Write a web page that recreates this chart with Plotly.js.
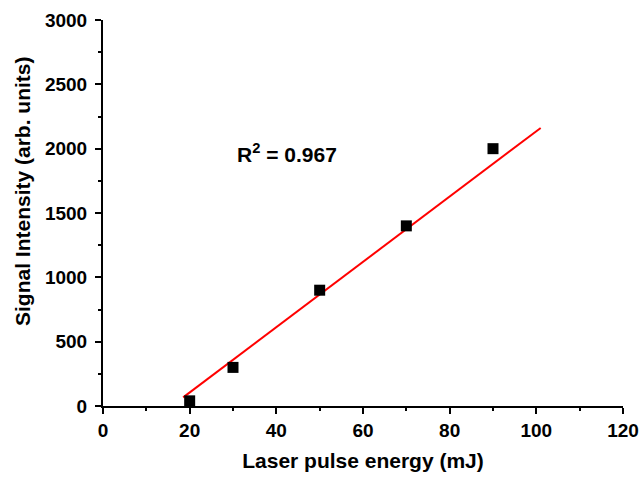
<!DOCTYPE html>
<html>
<head>
<meta charset="utf-8">
<script src="https://cdn.plot.ly/plotly-3.0.1.min.js"></script>
<style>html,body{margin:0;padding:0;background:#fff;}#chart{width:641px;height:477px;}</style>
</head>
<body>
<div id="chart"></div>
<script>
var energy = [20, 30, 50, 70, 90];
var intensity = [40, 300, 900, 1400, 2000];
var fitX = [18.5, 101];
var fitY = [67, 2161];
var r2Label = "R<sup>2</sup> = 0.967";
var xTitle = "Laser pulse energy (mJ)";
var yTitle = "Signal Intensity (arb. units)";

var font = "Liberation Sans, Arial, sans-serif";
var axisCommon = {
  showgrid: false, zeroline: false, showline: true, linecolor: '#000', linewidth: 2,
  ticks: 'outside', ticklen: 6, tickwidth: 2, tickcolor: '#000',
  tickfont: {family: font, size: 19, color: '#000', weight: 'bold'},
  minor: {ticks: 'outside', ticklen: 3, tickwidth: 2, tickcolor: '#000'},
  mirror: false
};

var data = [
  {x: fitX, y: fitY, mode: 'lines', line: {color: '#ff0000', width: 2}, hoverinfo: 'skip'},
  {x: energy, y: intensity, mode: 'markers', marker: {symbol: 'square', size: 11, color: '#000'}}
];

var layout = {
  width: 641, height: 477,
  margin: {l: 103, r: 18, t: 20, b: 71},
  paper_bgcolor: '#fff', plot_bgcolor: '#fff',
  showlegend: false,
  xaxis: Object.assign({}, axisCommon, {
    range: [0, 120], dtick: 20, tick0: 0,
    minor: Object.assign({}, axisCommon.minor, {dtick: 10}),
    title: {text: xTitle, font: {family: font, size: 21, color: '#000', weight: 'bold'}, standoff: 14}
  }),
  yaxis: Object.assign({}, axisCommon, {
    range: [0, 3000], dtick: 500, tick0: 0,
    ticklabelstandoff: 4,
    minor: Object.assign({}, axisCommon.minor, {dtick: 250})
  }),
  annotations: [{
    x: 30.5, y: 1966, xref: 'x', yref: 'y', xanchor: 'left', yanchor: 'middle',
    text: r2Label, showarrow: false,
    font: {family: font, size: 21, color: '#000', weight: 'bold'}
  }, {
    x: (22 - 103) / 520, y: (406 - 191) / 386, xref: 'paper', yref: 'paper',
    xanchor: 'center', yanchor: 'middle', textangle: -90,
    text: yTitle, showarrow: false,
    font: {family: font, size: 21, color: '#000', weight: 'bold'}
  }]
};

Plotly.newPlot('chart', data, layout, {displayModeBar: false, staticPlot: true});
</script>
</body>
</html>
